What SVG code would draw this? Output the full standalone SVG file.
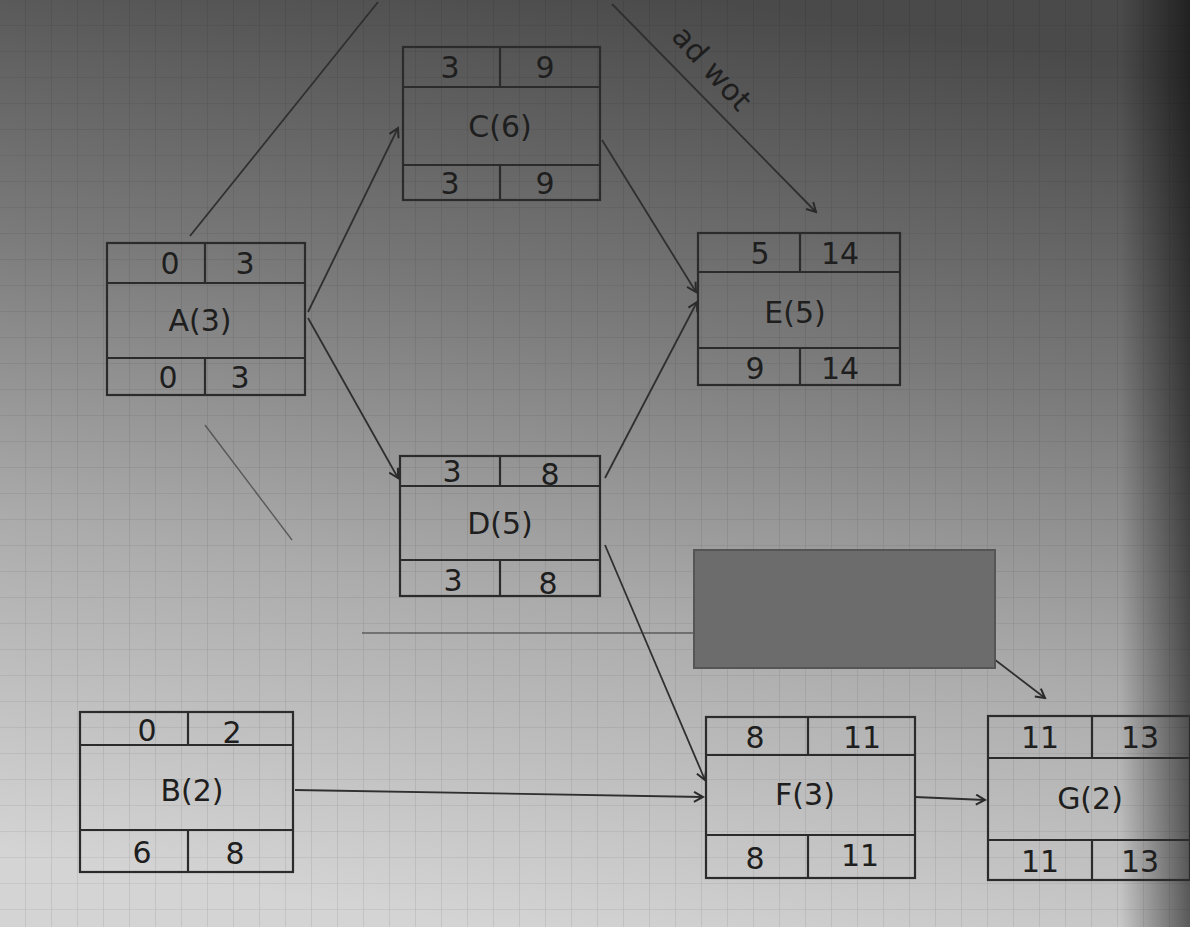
<svg xmlns="http://www.w3.org/2000/svg" width="1190" height="927" viewBox="0 0 1190 927">
<defs>
<linearGradient id="bg" x1="0.6" y1="0" x2="0.4" y2="1">
<stop offset="0" stop-color="#4a4a4a"/>
<stop offset="0.35" stop-color="#7a7a7a"/>
<stop offset="0.65" stop-color="#ababab"/>
<stop offset="1" stop-color="#d4d4d4"/>
</linearGradient>
<linearGradient id="edge" x1="0" y1="0" x2="1" y2="0">
<stop offset="0" stop-color="#000" stop-opacity="0"/>
<stop offset="1" stop-color="#000" stop-opacity="0.55"/>
</linearGradient>
<pattern id="grid" width="26" height="26" patternUnits="userSpaceOnUse">
<path d="M26 0V26M0 26H26" fill="none" stroke="#000" stroke-opacity="0.12" stroke-width="1.2"/>
</pattern>
<marker id="arr" markerWidth="12" markerHeight="12" refX="10" refY="6" orient="auto" markerUnits="userSpaceOnUse">
<path d="M1,1 L10,6 L1,11" fill="none" stroke="#2a2a2a" stroke-width="2"/>
</marker>
<style>
.box{fill:none;stroke:#2b2b2b;stroke-width:2.2}
.t{font-family:"DejaVu Sans",sans-serif;font-size:30px;fill:#1e1e1e;text-anchor:middle;dominant-baseline:central}
.ln{fill:none;stroke:#2f2f2f;stroke-width:1.8}
.fl{fill:none;stroke:#3a3a3a;stroke-width:1.4;stroke-opacity:0.7}
</style>
</defs>
<rect width="1190" height="927" fill="url(#bg)"/>
<rect width="1190" height="927" fill="url(#grid)"/>
<rect x="1120" y="0" width="70" height="927" fill="url(#edge)"/>

<g id="connectors">
<line class="ln" x1="190" y1="236" x2="378" y2="2"/>
<path class="ln" d="M612 4 L816 212" marker-end="url(#arr)"/>
<text class="t" x="712" y="68" font-size="26" transform="rotate(48 712 68)">ad wot</text>
<path class="ln" d="M308 312 L398 128" marker-end="url(#arr)"/>
<path class="ln" d="M308 318 L398 478" marker-end="url(#arr)"/>
<line class="fl" x1="205" y1="425" x2="292" y2="540"/>
<path class="ln" d="M602 140 L696 292" marker-end="url(#arr)"/>
<path class="ln" d="M605 478 L697 302" marker-end="url(#arr)"/>
<path class="ln" d="M605 545 L705 780" marker-end="url(#arr)"/>
<line class="fl" x1="362" y1="633" x2="694" y2="633"/>
<path class="ln" d="M990 656 L1045 698" marker-end="url(#arr)"/>
<path class="ln" d="M295 790 L703 797" marker-end="url(#arr)"/>
<path class="ln" d="M915 797 L985 800" marker-end="url(#arr)"/>
</g>

<g id="nodeC">
<rect class="box" x="403" y="47" width="197" height="153"/>
<line class="box" x1="403" y1="87" x2="600" y2="87"/>
<line class="box" x1="403" y1="165" x2="600" y2="165"/>
<line class="box" x1="500" y1="47" x2="500" y2="87"/>
<line class="box" x1="500" y1="165" x2="500" y2="200"/>
<text class="t" x="450" y="67">3</text><text class="t" x="545" y="67">9</text>
<text class="t" x="500" y="126">C(6)</text>
<text class="t" x="450" y="183">3</text><text class="t" x="545" y="183">9</text>
</g>

<g id="nodeA">
<rect class="box" x="107" y="243" width="198" height="152"/>
<line class="box" x1="107" y1="283" x2="305" y2="283"/>
<line class="box" x1="107" y1="358" x2="305" y2="358"/>
<line class="box" x1="205" y1="243" x2="205" y2="283"/>
<line class="box" x1="205" y1="358" x2="205" y2="395"/>
<text class="t" x="170" y="263">0</text><text class="t" x="245" y="263">3</text>
<text class="t" x="200" y="320">A(3)</text>
<text class="t" x="168" y="377">0</text><text class="t" x="240" y="377">3</text>
</g>

<g id="nodeE">
<rect class="box" x="698" y="233" width="202" height="152"/>
<line class="box" x1="698" y1="272" x2="900" y2="272"/>
<line class="box" x1="698" y1="348" x2="900" y2="348"/>
<line class="box" x1="800" y1="233" x2="800" y2="272"/>
<line class="box" x1="800" y1="348" x2="800" y2="385"/>
<text class="t" x="760" y="253">5</text><text class="t" x="840" y="253">14</text>
<text class="t" x="795" y="312">E(5)</text>
<text class="t" x="755" y="368">9</text><text class="t" x="840" y="368">14</text>
</g>

<g id="nodeD">
<rect class="box" x="400" y="456" width="200" height="140"/>
<line class="box" x1="400" y1="486" x2="600" y2="486"/>
<line class="box" x1="400" y1="560" x2="600" y2="560"/>
<line class="box" x1="500" y1="456" x2="500" y2="486"/>
<line class="box" x1="500" y1="560" x2="500" y2="596"/>
<text class="t" x="452" y="471">3</text><text class="t" x="550" y="474">8</text>
<text class="t" x="500" y="523">D(5)</text>
<text class="t" x="453" y="580">3</text><text class="t" x="548" y="583">8</text>
</g>

<rect id="blank" x="694" y="550" width="301" height="118" fill="#6c6c6c" stroke="#555" stroke-width="2"/>

<g id="nodeB">
<rect class="box" x="80" y="712" width="213" height="160"/>
<line class="box" x1="80" y1="745" x2="293" y2="745"/>
<line class="box" x1="80" y1="830" x2="293" y2="830"/>
<line class="box" x1="188" y1="712" x2="188" y2="745"/>
<line class="box" x1="188" y1="830" x2="188" y2="872"/>
<text class="t" x="147" y="730">0</text><text class="t" x="232" y="732">2</text>
<text class="t" x="192" y="790">B(2)</text>
<text class="t" x="142" y="852">6</text><text class="t" x="235" y="853">8</text>
</g>

<g id="nodeF">
<rect class="box" x="706" y="717" width="209" height="161"/>
<line class="box" x1="706" y1="755" x2="915" y2="755"/>
<line class="box" x1="706" y1="835" x2="915" y2="835"/>
<line class="box" x1="808" y1="717" x2="808" y2="755"/>
<line class="box" x1="808" y1="835" x2="808" y2="878"/>
<text class="t" x="755" y="737">8</text><text class="t" x="862" y="737">11</text>
<text class="t" x="805" y="794">F(3)</text>
<text class="t" x="755" y="858">8</text><text class="t" x="860" y="855">11</text>
</g>

<g id="nodeG">
<rect class="box" x="988" y="716" width="202" height="164"/>
<line class="box" x1="988" y1="758" x2="1190" y2="758"/>
<line class="box" x1="988" y1="840" x2="1190" y2="840"/>
<line class="box" x1="1092" y1="716" x2="1092" y2="758"/>
<line class="box" x1="1092" y1="840" x2="1092" y2="880"/>
<text class="t" x="1040" y="737">11</text><text class="t" x="1140" y="737">13</text>
<text class="t" x="1090" y="798">G(2)</text>
<text class="t" x="1040" y="861">11</text><text class="t" x="1140" y="861">13</text>
</g>
</svg>
